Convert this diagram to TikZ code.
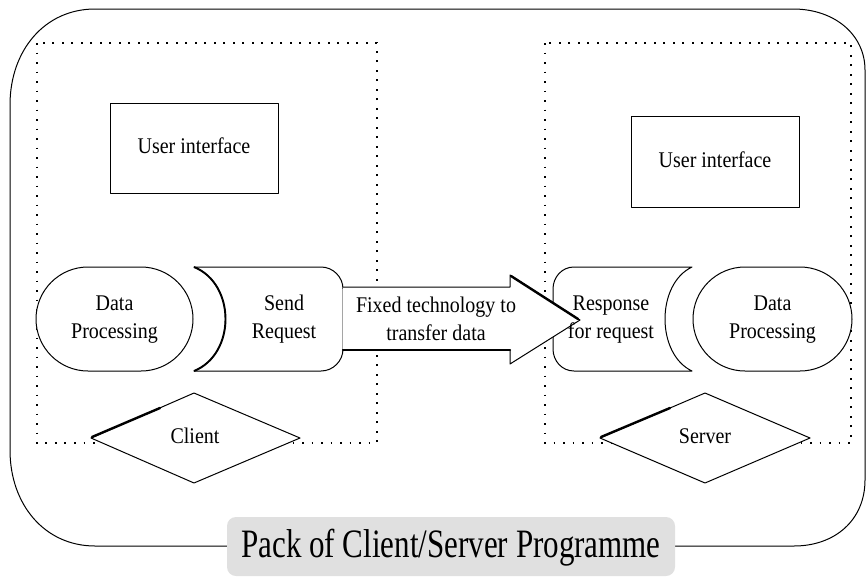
\documentclass[tikz,border=0pt]{standalone}
\usepackage{fontspec}
\setmainfont{Liberation Serif}
\usepackage{graphicx}
\definecolor{labelgray}{RGB}{224,224,224}
% text set slightly taller than wide, lines stacked and centred
\newcommand{\tall}[2][1.12]{\scalebox{1}[#1]{\begin{tabular}{@{}c@{}}#2\end{tabular}}}
\begin{document}
\begin{tikzpicture}[x=1pt,y=-1pt,
  every node/.style={font=\fontsize{20}{25}\selectfont, inner sep=0pt},
  outline/.style={line width=1pt, line join=round},
  shapefill/.style={outline, fill=white},
  heavy/.style={line width=2.4pt, line cap=round},
  dotbox/.style={line width=1.3pt, dash pattern=on 1.6pt off 7.9pt},
]
\useasboundingbox (0,0) rectangle (867,576);

% outer package frame
\draw[outline] (10,105) .. controls (10,50) and (45,9) .. (95,9)
  -- (793,9) .. controls (835,9) and (865,35) .. (865,70)
  -- (865,480) .. controls (865,520) and (835,546) .. (794,546)
  -- (95,546) .. controls (45,546) and (10,505) .. (10,450) -- cycle;

% client and server areas
\draw[dotbox] (37,43) rectangle (377,443);
\draw[dotbox] (545,43) rectangle (851,443);

% user interface boxes
\draw[outline] (110,103) rectangle (278,193);
\node (uiL) at (194,148) {\tall{User interface}};
\draw[outline] (631,116) rectangle (799,207);
\node (uiR) at (715,161.5) {\tall{User interface}};

% data processing terminals
\draw[shapefill, rounded corners=52] (36,267) rectangle (193,371);
\node (dpL) at (114.5,319) {\tall{Data\\Processing}};
\draw[shapefill, rounded corners=52] (693,267) rectangle (852,371);
\node (dpR) at (772.5,319) {\tall{Data\\Processing}};

% send request (client side)
\draw[shapefill] (194,267) -- (321,267) .. controls (333,267) and (343,277) .. (343,289)
  -- (343,349) .. controls (343,361) and (333,371) .. (321,371)
  -- (194,371) .. controls (236,354) and (236,284) .. (194,267) -- cycle;
\draw[line width=1.9pt] (194,371) .. controls (236,354) and (236,284) .. (194,267);
\node (send) at (284,319) {\tall{Send\\Request}};

% response for request (server side)
\draw[shapefill] (692,267) -- (574,267) .. controls (562,267) and (553,277) .. (553,289)
  -- (553,349) .. controls (553,361) and (562,371) .. (574,371)
  -- (692,371) .. controls (656,354) and (656,284) .. (692,267) -- cycle;

% transfer arrow
\fill[white] (343,287) -- (510,287) -- (510,275) -- (580,320) -- (510,364) -- (510,350) -- (343,350) -- cycle;
\draw[outline] (343,287) -- (510,287) -- (510,275) -- (580,320) -- (510,364) -- (510,350) -- (343,350);
\draw[heavy] (343,350) -- (510,350);
\draw[heavy] (511,276) -- (578,319);
\node (xfer) at (436,321) {\tall{Fixed technology to\\transfer data}};
\node (resp) at (611,319) {\tall{Response\\for request}};

% client / server decisions
\draw[shapefill] (91,438) -- (194,393) -- (300,438) -- (194,483) -- cycle;
\draw[heavy] (92,437) -- (160,408);
\node (client) at (195,438) {\tall{Client}};
\draw[shapefill] (600,438) -- (705,393) -- (810,438) -- (705,483) -- cycle;
\draw[heavy] (601,437) -- (670,408);
\node (server) at (705,438) {\tall{Server}};

% package label
\fill[labelgray, rounded corners=9] (227,517) rectangle (675,576);
\node[font=\fontsize{31}{36}\selectfont] (pack) at (451,548) {\scalebox{1}[1.3]{Pack of Client/Server Programme}};
\end{tikzpicture}
\end{document}
